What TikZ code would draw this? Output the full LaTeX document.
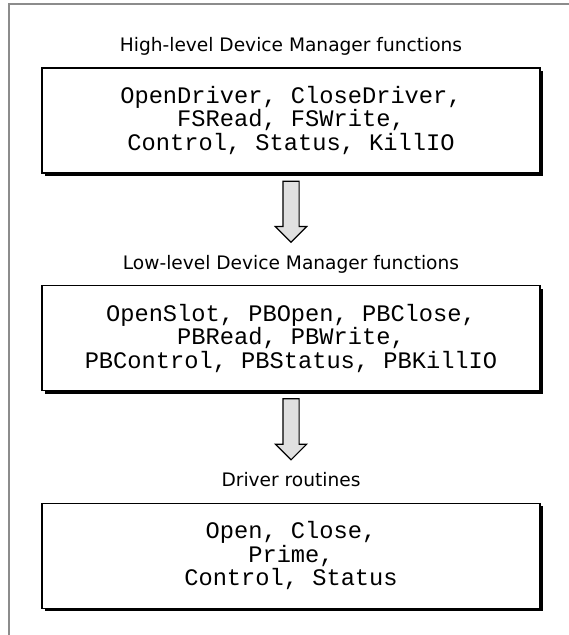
\documentclass[tikz,border=0pt]{standalone}
\usepackage{fontspec}
\newfontfamily\layerfont{DejaVu Sans}
\newfontfamily\callfont{Liberation Mono}
\usetikzlibrary{positioning,shapes.arrows,shadows}

\begin{document}
\begin{tikzpicture}[x=1pt, y=1pt,
    callbox/.style={draw, line width=1.2pt, fill=white, minimum width=498pt, minimum height=105pt, align=center,
        font=\callfont\fontsize{23.7}{23.5}\selectfont,
        drop shadow={shadow xshift=3pt, shadow yshift=-3pt, opacity=1, fill=black}},
    layer/.style={font=\layerfont\fontsize{18.6}{20}\selectfont, inner sep=0pt},
    downarrow/.style={single arrow, draw, line width=1.2pt, fill=black!12, shape border rotate=270,
        minimum height=61pt, inner sep=7.5pt, single arrow head extend=7.5pt, single arrow head indent=0pt}]
    \useasboundingbox (0,0) rectangle (569,635);
    \draw[black!45, line width=1.2pt] (9,0) -- (9,631) -- (569,631);

    \node (high) [callbox] at (291,514.5) {OpenDriver, CloseDriver,\\FSRead, FSWrite,\\Control, Status, KillIO};
    \node (hightitle) [layer, above=16pt of high, anchor=base] {High-level Device Manager functions};
    \node (down1) [downarrow, below=7pt of high, anchor=tail] {};

    \node (low) [callbox, below=42pt of down1.tip] {OpenSlot, PBOpen, PBClose,\\PBRead, PBWrite,\\PBControl, PBStatus, PBKillIO};
    \node (lowtitle) [layer, above=16pt of low, anchor=base] {Low-level Device Manager functions};
    \node (down2) [downarrow, below=7pt of low, anchor=tail] {};

    \node (driver) [callbox, below=42pt of down2.tip] {Open, Close,\\Prime,\\Control, Status};
    \node (drivertitle) [layer, above=16pt of driver, anchor=base] {Driver routines};
\end{tikzpicture}
\end{document}
